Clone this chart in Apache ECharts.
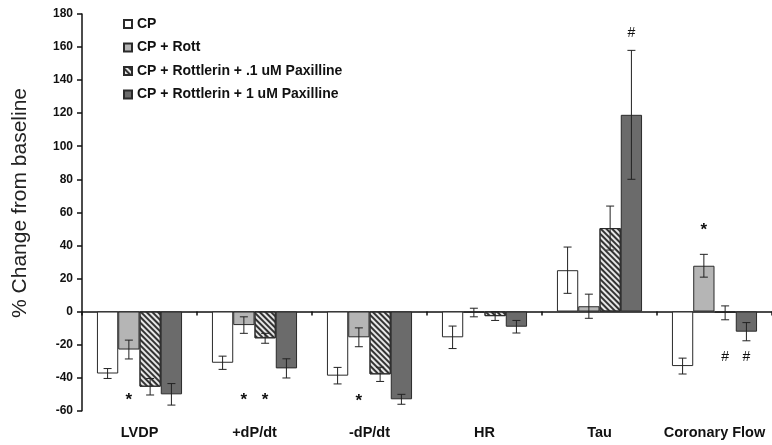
<!DOCTYPE html>
<html>
<head>
<meta charset="utf-8">
<script src="https://cdn.jsdelivr.net/npm/echarts@6/dist/echarts.min.js"></script>
<style>html,body{margin:0;padding:0;background:#fff}#c{width:772px;height:445px}</style>
</head>
<body>
<div id="c"></div>
<script>
const categories = ['LVDP', '+dP/dt', '-dP/dt', 'HR', 'Tau', 'Coronary Flow'];
const seriesNames = ['CP', 'CP + Rott', 'CP + Rottlerin + .1 uM Paxilline', 'CP + Rottlerin + 1 uM Paxilline'];
const cpValues      = [-37.5, -31, -38.8, -15.6, 25, -33];
const cpErrors      = [3, 4, 5, 6.8, 14, 4.8];
const rottValues    = [-23, -8.2, -15.6, -0.6, 3.2, 27.7];
const rottErrors    = [5.7, 5, 5.7, 2.6, 7.3, 6.9];
const pax01Values   = [-45.5, -16.2, -38, -2.8, 50.5, -0.8];
const pax01Errors   = [5, 3, 4.3, 2.6, 13.3, 4.2];
const pax1Values    = [-50.1, -34.4, -53.1, -9.2, 119, -12.2];
const pax1Errors    = [6.5, 5.8, 3, 3.8, 39, 5.5];
// annotations: [category index, series index, y value, symbol]
const annotations = [
  [0, 1, -51, '*'],
  [1, 1, -51, '*'],
  [1, 2, -51, '*'],
  [2, 1, -52, '*'],
  [4, 3, 168.5, '#'],
  [5, 1, 51.7, '*'],
  [5, 2, -27.5, '#'],
  [5, 3, -27.5, '#']
];
const yTicks = {min: -60, max: 180, interval: 20};

const allValues = [cpValues, rottValues, pax01Values, pax1Values];
const allErrors = [cpErrors, rottErrors, pax01Errors, pax1Errors];
const fills = ['#ffffff', '#b5b5b5', '#e6e6e6', '#6b6b6b'];

const chart = echarts.init(document.getElementById('c'), null, {renderer: 'canvas'});
const GROUP_FRAC = 0.74;

function barOffset(api, si) {
  const band = api.size([1, 0])[0];
  const w = band * GROUP_FRAC / 4;
  return (si - 1.5) * w;
}

const series = [];
allValues.forEach((vals, si) => {
  const s = {
    name: seriesNames[si],
    type: 'bar',
    xAxisIndex: 0,
    data: vals,
    barGap: '0%',
    barCategoryGap: '26%',
    itemStyle: {color: fills[si], borderColor: '#2a2a2a', borderWidth: 1},
    emphasis: {disabled: true},
    animation: false
  };
  if (si === 2) {
    s.itemStyle.decal = {
      symbol: 'rect',
      symbolSize: 1,
      color: '#333333',
      dashArrayX: [1, 0],
      dashArrayY: [1.5, 1.5],
      rotation: Math.PI / 4
    };
  }
  series.push(s);
});

allValues.forEach((vals, si) => {
  series.push({
    type: 'custom',
    xAxisIndex: 0,
    silent: true,
    animation: false,
    z: 5,
    data: vals.map((v, i) => [i, v, allErrors[si][i]]),
    renderItem: function (params, api) {
      const ci = api.value(0), v = api.value(1), e = api.value(2);
      const top = api.coord([ci, v + e]);
      const bot = api.coord([ci, v - e]);
      const x = top[0] + barOffset(api, si);
      const cap = 4;
      const st = {stroke: '#222', lineWidth: 1};
      return {
        type: 'group',
        children: [
          {type: 'line', shape: {x1: x, y1: top[1], x2: x, y2: bot[1]}, style: st},
          {type: 'line', shape: {x1: x - cap, y1: top[1], x2: x + cap, y2: top[1]}, style: st},
          {type: 'line', shape: {x1: x - cap, y1: bot[1], x2: x + cap, y2: bot[1]}, style: st}
        ]
      };
    }
  });
});

series.push({
  type: 'custom',
  xAxisIndex: 0,
  silent: true,
  animation: false,
  z: 6,
  data: annotations,
  renderItem: function (params, api) {
    const ci = api.value(0), si = api.value(1), y = api.value(2);
    const sym = annotations[params.dataIndex][3];
    const p = api.coord([ci, y]);
    const star = sym === '*';
    return {
      type: 'text',
      style: {
        text: sym,
        x: p[0] + barOffset(api, si),
        y: p[1] + (star ? 4 : 0),
        align: 'center',
        verticalAlign: 'middle',
        font: star ? 'bold 17px Arial, "Liberation Sans", sans-serif' : '14px Arial, "Liberation Sans", sans-serif',
        fill: '#111'
      }
    };
  }
});

const option = {
  backgroundColor: '#ffffff',
  animation: false,
  grid: {left: 82, top: 14, width: 698, bottom: 34.3, containLabel: false},
  legend: {
    orient: 'vertical',
    left: 118,
    top: 12,
    itemWidth: 8,
    itemHeight: 8,
    itemGap: 9.5,
    icon: 'rect',
    data: seriesNames,
    textStyle: {fontFamily: 'Arial, "Liberation Sans", sans-serif', fontWeight: 'bold', fontSize: 14, color: '#111'},
    selectedMode: false
  },
  xAxis: [
    {
      type: 'category',
      data: categories,
      axisLine: {onZero: true, lineStyle: {color: '#111', width: 1.5}},
      axisTick: {show: true, inside: false, length: 4, lineStyle: {color: '#111', width: 1.5}},
      axisLabel: {show: false},
      splitLine: {show: false}
    },
    {
      type: 'category',
      data: categories,
      position: 'bottom',
      axisLine: {show: false},
      axisTick: {show: false},
      axisLabel: {show: true, interval: 0, hideOverlap: false, margin: 15, fontFamily: 'Arial, "Liberation Sans", sans-serif', fontWeight: 'bold', fontSize: 14.5, color: '#111'},
      splitLine: {show: false}
    }
  ],
  yAxis: {
    type: 'value',
    min: yTicks.min,
    max: yTicks.max,
    interval: yTicks.interval,
    axisLine: {show: true, onZero: false, lineStyle: {color: '#111', width: 1.5}},
    axisTick: {show: true, length: 5, lineStyle: {color: '#111', width: 1.5}},
    axisLabel: {margin: 9, fontFamily: 'Arial, "Liberation Sans", sans-serif', fontWeight: 'bold', fontSize: 12, color: '#111'},
    splitLine: {show: false}
  },
  graphic: [{
    type: 'text',
    left: 10,
    top: 88,
    rotation: Math.PI / 2,
    style: {
      text: '% Change from baseline',
      font: '21px Arial, "Liberation Sans", sans-serif',
      fill: '#222'
    }
  }],
  series: series
};
chart.setOption(option);
</script>
</body>
</html>
